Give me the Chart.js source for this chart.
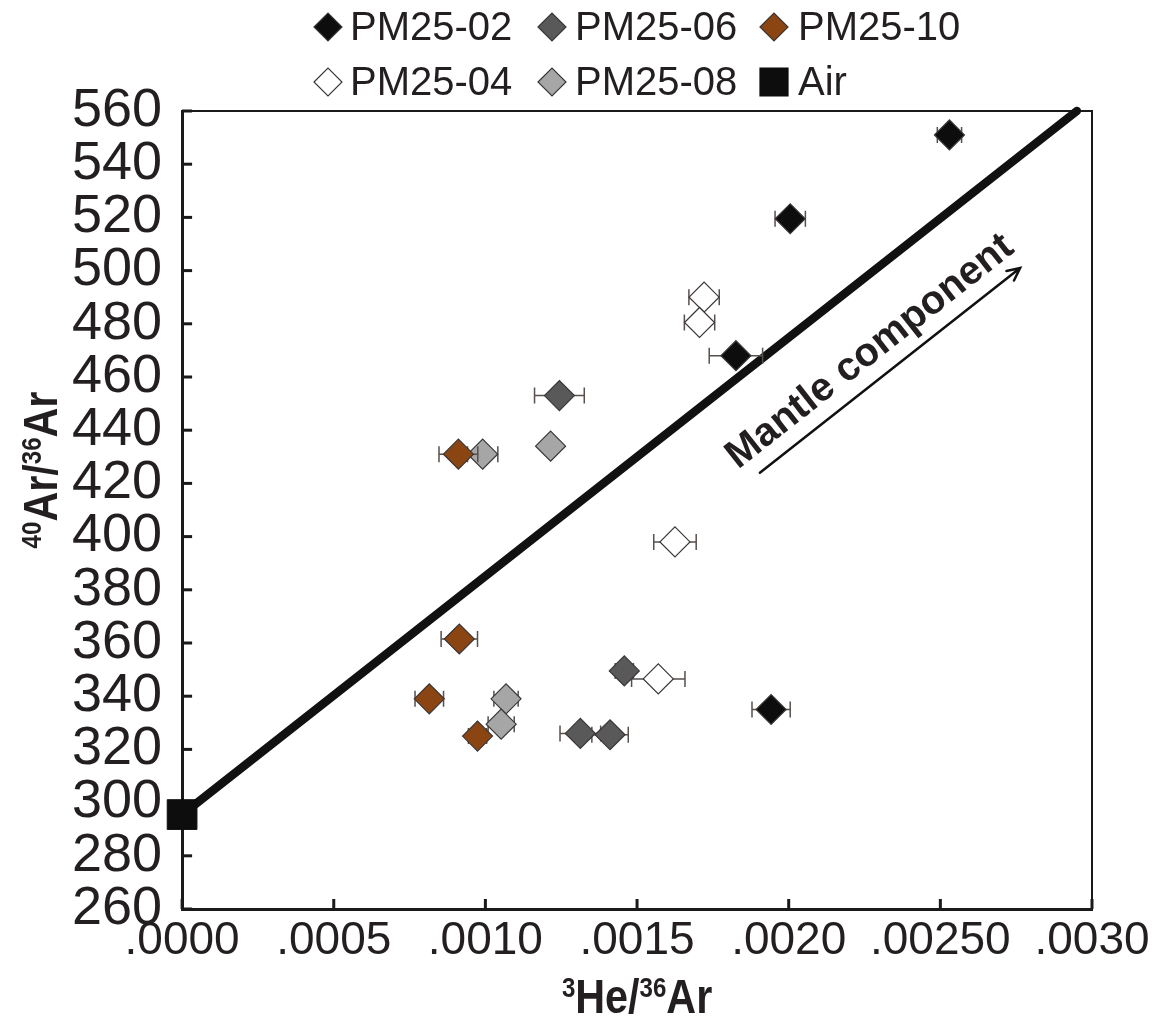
<!DOCTYPE html>
<html>
<head>
<meta charset="utf-8">
<title>40Ar/36Ar vs 3He/36Ar</title>
<script src="https://cdn.jsdelivr.net/npm/chart.js@4.4.1/dist/chart.umd.min.js"></script>
<style>
  html, body { margin: 0; padding: 0; background: #fff; }
  #wrap { width: 1159px; height: 1023px; }
</style>
</head>
<body>
<div id="wrap"><canvas id="chart" width="1159" height="1023"></canvas></div>
<script>
// Samples: 3He/36Ar (x), 40Ar/36Ar (y) and the +/- error on 3He/36Ar
const pm02X = [0.002530, 0.002005, 0.001826, 0.001942];
const pm02Y = [551, 519.5, 468, 335];
const pm02Err = [0.00004, 0.00005, 0.000088, 0.000063];

const pm06X = [0.001244, 0.001458, 0.001313, 0.001411];
const pm06Y = [453, 349.5, 326, 325.5];
const pm06Err = [0.000082, 0.00003, 0.000067, 0.00006];

const pm10X = [0.000911, 0.000914, 0.000815, 0.000974];
const pm10Y = [431, 361.5, 339, 325];
const pm10Err = [0.000064, 0.00006, 0.000047, 0.00003];

const pm04X = [0.001721, 0.001706, 0.001625, 0.001570];
const pm04Y = [490, 480.5, 398, 346.5];
const pm04Err = [0.00005, 0.00005, 0.00007, 0.000088];

const pm08X = [0.000991, 0.001215, 0.001068, 0.001052];
const pm08Y = [431, 434, 339, 329.5];
const pm08Err = [0.00005, 0.00002, 0.00004, 0.000043];

// Atmospheric composition
const airX = [0];
const airY = [295.5];

// Mixing line from air towards the mantle end-member
const mixLineX = [0, 0.00295];
const mixLineY = [295.5, 560];

// Axis ticks
const xTickLabels = ['.0000', '.0005', '.0010', '.0015', '.0020', '.00250', '.0030'];
const yTickMin = 260, yTickMax = 560, yTickStep = 20;

// "Mantle component" arrow, in data units
const arrowFrom = { x: 0.001905, y: 424 };
const arrowTo = { x: 0.002763, y: 501 };
const arrowLabelAt = { x: 0.002268, y: 469.5 };

const SANS = "'Liberation Sans', Arial, Helvetica, sans-serif";
const INK = '#231f20';

function toPoints(xs, ys) {
    return xs.map((x, i) => ({ x: x, y: ys[i] }));
}

function sampleDataset(label, xs, ys, errs, fill) {
    return {
        label: label,
        data: toPoints(xs, ys),
        errorBars: errs,
        pointStyle: 'rectRot',
        pointRadius: 15,
        pointHoverRadius: 15,
        backgroundColor: fill,
        borderColor: '#3a3636',
        borderWidth: 1.2,
        showLine: false,
        clip: false,
        order: 0
    };
}

// Draw a diamond or a square marker
function drawMarker(ctx, style, x, y, r, fill, stroke) {
    ctx.beginPath();
    if (style === 'rect') {
        ctx.rect(x - r, y - r, 2 * r, 2 * r);
    } else {
        ctx.moveTo(x - r, y);
        ctx.lineTo(x, y - r);
        ctx.lineTo(x + r, y);
        ctx.lineTo(x, y + r);
        ctx.closePath();
    }
    ctx.fillStyle = fill;
    ctx.fill();
    ctx.strokeStyle = stroke;
    ctx.lineWidth = 1.2;
    ctx.stroke();
}

// Condensed text with superscript parts, e.g. 40Ar/36Ar, centred on (0, 0)
function drawSupText(ctx, parts, bigFont, smallFont, rise, squeeze) {
    let total = 0;
    parts.forEach(p => {
        ctx.font = p.sup ? smallFont : bigFont;
        p.w = ctx.measureText(p.t).width;
        total += p.w;
    });
    ctx.scale(squeeze, 1);
    let cx = -total / 2;
    ctx.textAlign = 'left';
    ctx.textBaseline = 'alphabetic';
    parts.forEach(p => {
        ctx.font = p.sup ? smallFont : bigFont;
        ctx.fillText(p.t, cx, p.sup ? -rise : 0);
        cx += p.w;
    });
}

// Horizontal error bars, drawn just before each series
const errorBarPlugin = {
    id: 'errorBars',
    beforeDatasetDraw(chart, args) {
        const ds = chart.data.datasets[args.index];
        if (!ds.errorBars) return;
        const ctx = chart.ctx;
        const xs = chart.scales.x, ys = chart.scales.y;
        ctx.save();
        ctx.strokeStyle = '#57504c';
        ctx.lineWidth = 1.5;
        ds.data.forEach((p, i) => {
            const e = ds.errorBars[i];
            const x0 = xs.getPixelForValue(p.x - e);
            const x1 = xs.getPixelForValue(p.x + e);
            const y = ys.getPixelForValue(p.y);
            ctx.beginPath();
            ctx.moveTo(x0, y); ctx.lineTo(x1, y);
            ctx.moveTo(x0, y - 8); ctx.lineTo(x0, y + 8);
            ctx.moveTo(x1, y - 8); ctx.lineTo(x1, y + 8);
            ctx.stroke();
        });
        ctx.restore();
    }
};

// Closed frame with inward tick marks
const framePlugin = {
    id: 'frame',
    beforeDatasetsDraw(chart) {
        const ctx = chart.ctx;
        const a = chart.chartArea;
        ctx.save();
        ctx.strokeStyle = '#1a1a1a';
        ctx.lineWidth = 2;
        ctx.beginPath();
        ctx.moveTo(a.left, a.top); ctx.lineTo(a.right, a.top); ctx.lineTo(a.right, a.bottom);
        ctx.stroke();

        ctx.lineWidth = 3;
        chart.scales.y.ticks.forEach(t => {
            const y = chart.scales.y.getPixelForValue(t.value);
            ctx.beginPath();
            ctx.moveTo(a.left, y); ctx.lineTo(a.left + 10, y);
            ctx.stroke();
        });
        chart.scales.x.ticks.forEach(t => {
            const x = chart.scales.x.getPixelForValue(t.value);
            ctx.beginPath();
            ctx.moveTo(x, a.bottom); ctx.lineTo(x, a.bottom - 10);
            ctx.stroke();
        });
        ctx.restore();
    }
};

// Arrow and label for the mantle direction
const arrowPlugin = {
    id: 'mantleArrow',
    afterDatasetsDraw(chart) {
        const ctx = chart.ctx;
        const xs = chart.scales.x, ys = chart.scales.y;
        const x0 = xs.getPixelForValue(arrowFrom.x), y0 = ys.getPixelForValue(arrowFrom.y);
        const x1 = xs.getPixelForValue(arrowTo.x), y1 = ys.getPixelForValue(arrowTo.y);
        const ang = Math.atan2(y1 - y0, x1 - x0);
        ctx.save();
        ctx.strokeStyle = '#111';
        ctx.lineWidth = 2.5;
        ctx.lineCap = 'round';
        ctx.beginPath();
        ctx.moveTo(x0, y0); ctx.lineTo(x1, y1);
        ctx.moveTo(x1 - 14 * Math.cos(ang - 0.45), y1 - 14 * Math.sin(ang - 0.45));
        ctx.lineTo(x1, y1);
        ctx.lineTo(x1 - 14 * Math.cos(ang + 0.45), y1 - 14 * Math.sin(ang + 0.45));
        ctx.stroke();

        const lx = xs.getPixelForValue(arrowLabelAt.x), ly = ys.getPixelForValue(arrowLabelAt.y);
        ctx.translate(lx, ly);
        ctx.rotate(ang);
        ctx.fillStyle = INK;
        ctx.font = 'bold 40px ' + SANS;
        ctx.textAlign = 'center';
        ctx.textBaseline = 'middle';
        ctx.fillText('Mantle component', 0, 0);
        ctx.restore();
    }
};

// Axis titles with superscripts
const axisTitlePlugin = {
    id: 'axisTitles',
    afterDraw(chart) {
        const ctx = chart.ctx;
        const a = chart.chartArea;
        ctx.save();
        ctx.fillStyle = INK;
        ctx.translate((a.left + a.right) / 2, 1013);
        drawSupText(ctx, [{ t: '3', sup: true }, { t: 'He/' }, { t: '36', sup: true }, { t: 'Ar' }],
            'bold 48px ' + SANS, 'bold 28px ' + SANS, 16, 0.86);
        ctx.restore();

        ctx.save();
        ctx.fillStyle = INK;
        ctx.translate(57, 470);
        ctx.rotate(-Math.PI / 2);
        drawSupText(ctx, [{ t: '40', sup: true }, { t: 'Ar/' }, { t: '36', sup: true }, { t: 'Ar' }],
            'bold 48px ' + SANS, 'bold 28px ' + SANS, 16, 0.86);
        ctx.restore();
    }
};

// Two-row legend laid out in three columns
const legendRows = [['PM25-02', 'PM25-06', 'PM25-10'], ['PM25-04', 'PM25-08', 'Air']];
const legendPlugin = {
    id: 'gridLegend',
    afterDraw(chart) {
        const ctx = chart.ctx;
        const colMarker = [328, 552, 774];
        const colText = [350, 575, 798];
        const rowY = [27, 82];
        ctx.save();
        legendRows.forEach((row, r) => {
            row.forEach((label, c) => {
                const ds = chart.data.datasets.find(d => d.label === label);
                const style = ds.pointStyle === 'rect' ? 'rect' : 'rectRot';
                drawMarker(ctx, style, colMarker[c], rowY[r], 14, ds.backgroundColor, ds.borderColor);
                ctx.fillStyle = INK;
                ctx.font = '40px ' + SANS;
                ctx.textAlign = 'left';
                ctx.textBaseline = 'middle';
                ctx.fillText(label, colText[c], rowY[r] + 2);
            });
        });
        ctx.restore();
    }
};

const datasets = [
    {
        label: 'Air',
        data: toPoints(airX, airY),
        pointStyle: 'rect',
        pointRadius: 21,
        pointHoverRadius: 21,
        backgroundColor: '#0d0d0d',
        borderColor: '#0d0d0d',
        borderWidth: 1,
        clip: false,
        order: -1
    },
    sampleDataset('PM25-02', pm02X, pm02Y, pm02Err, '#0d0d0d'),
    sampleDataset('PM25-06', pm06X, pm06Y, pm06Err, '#595959'),
    sampleDataset('PM25-10', pm10X, pm10Y, pm10Err, '#8b4513'),
    sampleDataset('PM25-04', pm04X, pm04Y, pm04Err, '#ffffff'),
    sampleDataset('PM25-08', pm08X, pm08Y, pm08Err, '#a6a6a6'),
    {
        label: 'Mixing line',
        type: 'line',
        data: toPoints(mixLineX, mixLineY),
        borderColor: '#111111',
        borderWidth: 8.5,
        borderCapStyle: 'round',
        pointRadius: 0,
        fill: false,
        clip: false,
        order: 1
    }
];

const ctx = document.getElementById('chart').getContext('2d');
new Chart(ctx, {
    type: 'scatter',
    data: { datasets: datasets },
    options: {
        responsive: false,
        animation: false,
        layout: { padding: { left: 52, right: 67, top: 111, bottom: 50 } },
        plugins: {
            legend: { display: false },
            tooltip: { enabled: false }
        },
        scales: {
            x: {
                type: 'linear',
                min: 0,
                max: 0.003,
                grid: { display: false, drawTicks: false },
                border: { display: true, color: '#1a1a1a', width: 3 },
                ticks: {
                    stepSize: 0.0005,
                    padding: 9,
                    autoSkip: false,
                    maxRotation: 0,
                    minRotation: 0,
                    color: INK,
                    font: { family: SANS, size: 46, lineHeight: 1.0 },
                    callback: (value, index) => xTickLabels[index]
                }
            },
            y: {
                type: 'linear',
                min: yTickMin,
                max: yTickMax,
                grid: { display: false, drawTicks: false },
                border: { display: true, color: '#1a1a1a', width: 3 },
                ticks: {
                    stepSize: yTickStep,
                    padding: 20,
                    autoSkip: false,
                    color: INK,
                    font: { family: SANS, size: 54, lineHeight: 1.0 }
                }
            }
        }
    },
    plugins: [errorBarPlugin, framePlugin, arrowPlugin, axisTitlePlugin, legendPlugin]
});
</script>
</body>
</html>
